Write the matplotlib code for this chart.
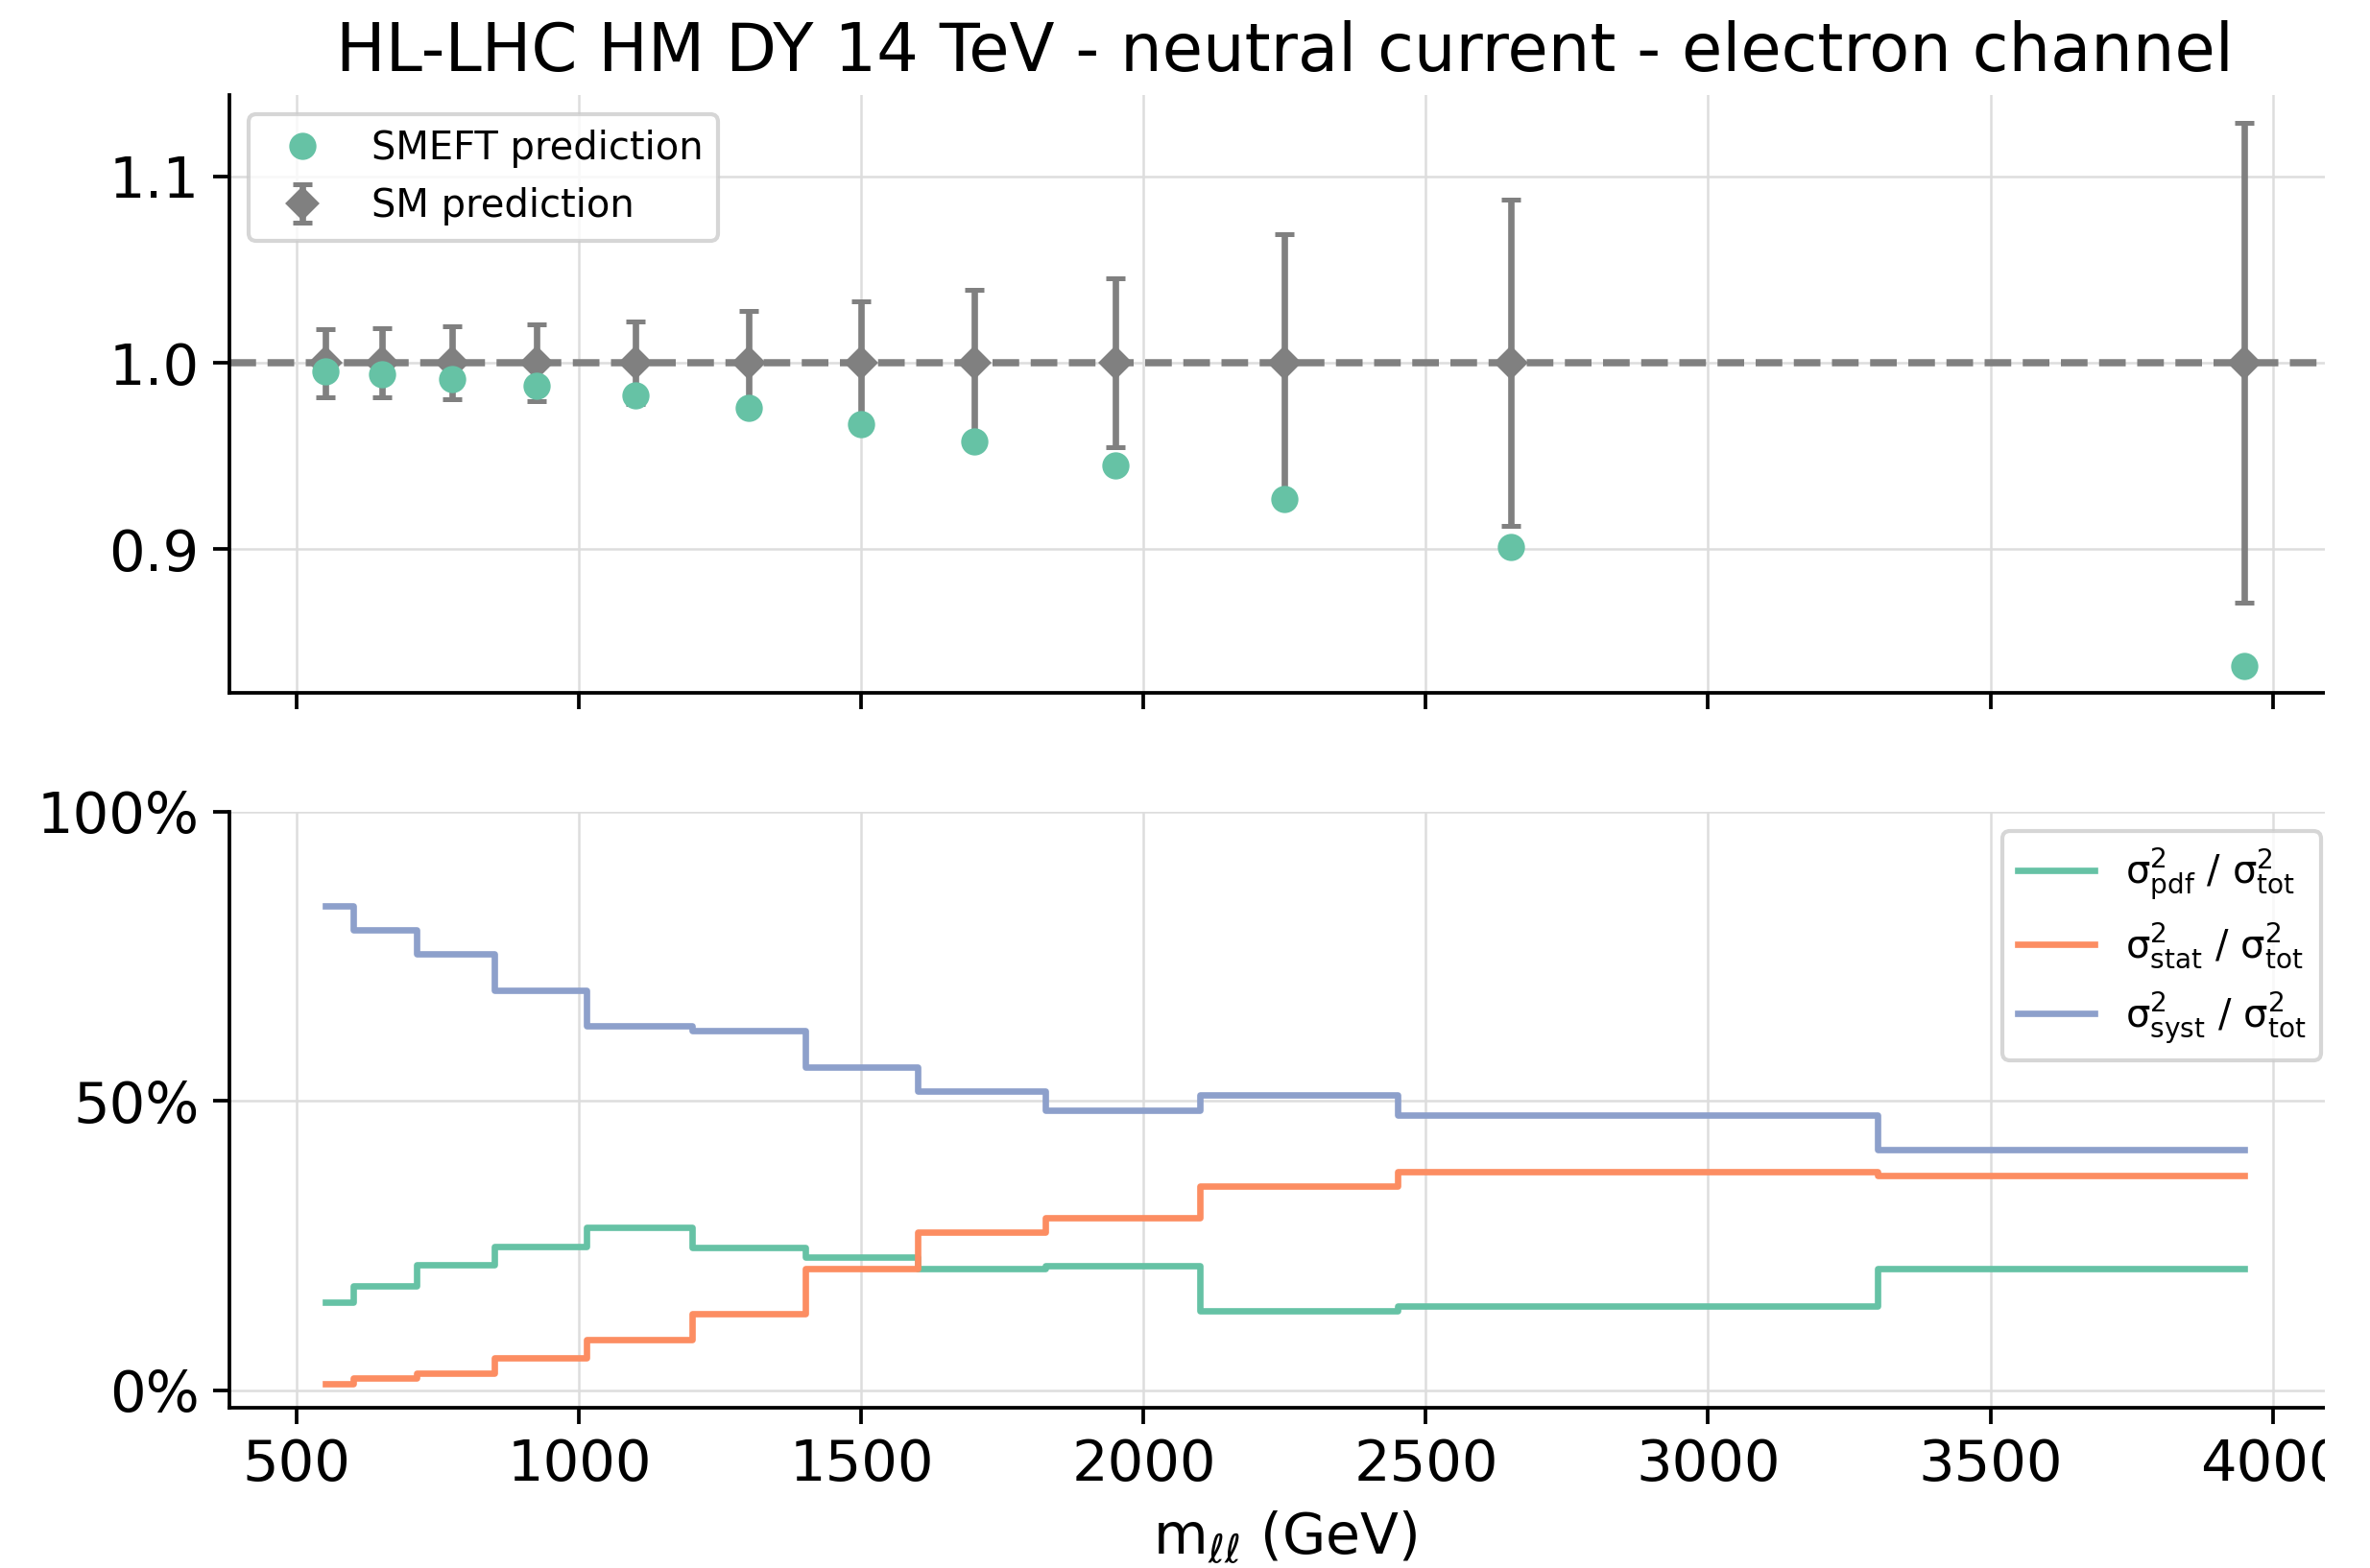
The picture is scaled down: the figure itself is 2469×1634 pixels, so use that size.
import numpy as np
import matplotlib
matplotlib.use("Agg")
import matplotlib.pyplot as plt
from matplotlib.ticker import PercentFormatter
from matplotlib.patches import Rectangle

# bin centres (GeV)
mll = [550, 650, 775, 925, 1100, 1300, 1500, 1700, 1950, 2250, 2650, 3950]

# ratio to the SM
smeft_ratio = [0.9953, 0.9938, 0.9912, 0.9875, 0.9824, 0.9756,
               0.9672, 0.9580, 0.9451, 0.9271, 0.9010, 0.8375]
sm_ratio = [1.0, 1.0, 1.0, 1.0, 1.0, 1.0, 1.0, 1.0, 1.0, 1.0, 1.0, 1.0]
sm_err = [0.0183, 0.0187, 0.0194, 0.0206, 0.0222, 0.0277,
          0.0331, 0.0393, 0.0453, 0.0692, 0.0875, 0.1289]

# share of the total variance
frac_pdf = [0.152, 0.181, 0.217, 0.249, 0.281, 0.247,
            0.230, 0.210, 0.216, 0.137, 0.145, 0.211]
frac_stat = [0.011, 0.021, 0.029, 0.056, 0.087, 0.132,
             0.211, 0.273, 0.299, 0.353, 0.378, 0.371]
frac_syst = [0.837, 0.796, 0.754, 0.691, 0.630, 0.622,
             0.559, 0.517, 0.484, 0.510, 0.476, 0.416]

plt.rcParams['font.family'] = ['DejaVu Sans']
plt.rcParams['font.size'] = 14
plt.rcParams['mathtext.default'] = 'regular'
plt.rcParams['axes.linewidth'] = 0.9
for ax_name in ['xtick', 'ytick']:
    plt.rcParams[ax_name + '.major.size'] = 4.0
    plt.rcParams[ax_name + '.major.width'] = 0.9
    plt.rcParams[ax_name + '.labelsize'] = 14.2

green = '#66c2a5'
orange = '#fc8d62'
blue = '#8da0cb'

fig = plt.figure(figsize=(2469 / 300, 1634 / 300), dpi=300)
ax = fig.add_axes([0.0967, 0.5581, 0.8908, 0.3811])
ax1 = fig.add_axes([0.0967, 0.1022, 0.8908, 0.3803], sharex=ax)

# ratio panel
ax.errorbar(mll, sm_ratio, yerr=sm_err, fmt='D', color='gray', ms=5,
            elinewidth=1.6, capsize=2.5, capthick=1.2, label='SM prediction', zorder=2)
ax.plot(mll, smeft_ratio, 'o', color=green, ms=5.8, linestyle='none',
        label='SMEFT prediction', zorder=3)
ax.axhline(1.0, color='gray', linestyle='--', lw=1.8, zorder=1.5)

ax.set_title('HL-LHC HM DY 14 TeV - neutral current - electron channel', fontsize=16.5)
ax.set_yticks([0.9, 1.0, 1.1])
ax.set_yticklabels(['0.9', '1.0', '1.1'])
ax.grid(True, color='#dddddd', lw=0.6)
ax.set_axisbelow(True)
ax.tick_params(labelbottom=False)

handles, labels = ax.get_legend_handles_labels()
order = [labels.index('SMEFT prediction'), labels.index('SM prediction')]
ax.legend([handles[i] for i in order], [labels[i] for i in order],
          loc='upper left', fontsize=9.6)

# uncertainty breakdown panel
ax1.step(mll, frac_pdf, where='mid', color=green, lw=1.6,
         label=r'$\sigma^2_{pdf}$ / $\sigma^2_{tot}$')
ax1.step(mll, frac_stat, where='mid', color=orange, lw=1.6,
         label=r'$\sigma^2_{stat}$ / $\sigma^2_{tot}$')
ax1.step(mll, frac_syst, where='mid', color=blue, lw=1.6,
         label=r'$\sigma^2_{syst}$ / $\sigma^2_{tot}$')

ax1.set_ylim(-0.03, 1.0)
ax1.set_yticks([0.0, 0.5, 1.0])
ax1.yaxis.set_major_formatter(PercentFormatter(1.0, decimals=0))
ax1.set_xticks([500, 1000, 1500, 2000, 2500, 3000, 3500, 4000])
ax1.grid(True, color='#dddddd', lw=0.6)
ax1.set_axisbelow(True)
ax1.set_xlabel(r'$m_{\ell\ell}$ (GeV)', fontsize=14)
ax1.legend(loc='upper right', fontsize=9.6)

for a in [ax, ax1]:
    a.spines['top'].set_visible(False)
    a.spines['right'].set_visible(False)

# the reference is cut off on the right
fig.patches.append(Rectangle((2422 / 2469, 0), 1, 1, transform=fig.transFigure,
                             facecolor='white', edgecolor='none', zorder=100))

fig.savefig('out.png', dpi=300)
